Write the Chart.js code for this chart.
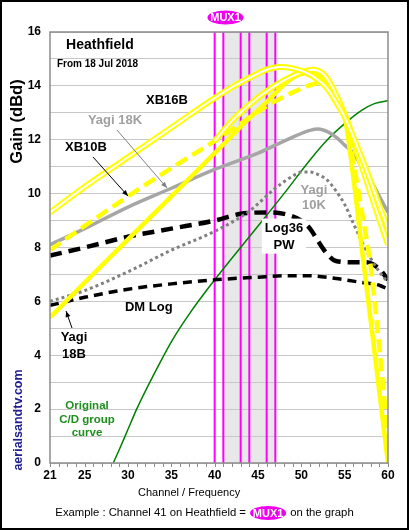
<!DOCTYPE html>
<html>
<head>
<meta charset="utf-8">
<script src="https://cdn.jsdelivr.net/npm/chart.js@4.4.1/dist/chart.umd.min.js"></script>
<style>
  html, body { margin: 0; padding: 0; background: #fff; }
  canvas { display: block; }
</style>
</head>
<body>
<canvas id="gainChart" width="409" height="530"></canvas>
<script>
const FONT = "'Liberation Sans', Arial, sans-serif";

const X_TICKS = [21, 25, 30, 35, 40, 45, 50, 55, 60];
const MUX_CHANNELS = [40, 41, 43, 44, 46, 47];
const MUX_BAND = [41, 47];

// [channel, gain in dBd]
const xb16b = [[21, 9.3], [25, 10.25], [30, 11.35], [35, 12.45], [40, 13.55], [42, 13.95], [44, 14.3],
  [46, 14.6], [47.5, 14.7], [49, 14.65], [50.5, 14.5], [52, 14.2], [53, 13.9], [54, 13.4], [55, 12.85],
  [56, 12.1], [57, 11.3], [58, 10.45], [59, 9.55], [60, 8.7]];
const xb16bB = [[40, 11.95], [42, 12.7], [44, 13.3], [46, 13.8], [48, 14.2], [50, 14.5], [51.3, 14.6],
  [52.5, 14.45], [53.5, 14.0], [54.5, 13.3], [55.3, 12.7], [56, 11.95], [57, 11.0], [58, 10.0],
  [59, 9.05], [60, 8.1]];
const yagi18b = [[21, 5.4], [25, 6.7], [30, 8.3], [35, 9.9], [40, 11.5], [44, 12.8], [46, 13.4],
  [48, 14.05], [49, 14.3], [50, 14.45], [51, 14.5], [52, 14.4], [53, 14.1], [54, 13.5], [55, 12.85],
  [56, 10.6], [57, 7.9], [58, 5.3], [59, 2.65], [60, 0]];
const xb10b = [[21, 7.9], [25, 8.8], [30, 9.9], [35, 10.95], [40, 11.95], [43, 12.6], [46, 13.25],
  [48, 13.6], [50, 13.9], [52, 14.1], [53, 14.05], [54, 13.7], [55, 12.9], [56, 11.2], [57, 9.3],
  [58, 7.3], [59, 4.3], [60, 1.0]];
const yagi18k = [[21, 8.1], [25, 8.7], [30, 9.5], [35, 10.2], [40, 10.9], [45, 11.5], [49, 12.1],
  [51, 12.35], [52, 12.4], [53, 12.3], [54, 12.1], [55, 11.8], [56, 11.5], [57, 11.0], [58, 10.5],
  [59, 9.9], [60, 9.3]];
const yagi10k = [[21, 6.0], [25, 6.4], [30, 7.1], [35, 7.9], [40, 8.6], [44, 9.35], [47, 10.2],
  [49, 10.65], [50, 10.8], [51, 10.8], [52, 10.7], [53, 10.5], [54, 10.1], [55, 9.6], [56, 8.9],
  [57, 8.2], [58, 7.6], [59, 7.1], [60, 6.7]];
const log36 = [[21, 7.7], [25, 8.0], [30, 8.4], [35, 8.7], [40, 9.0], [43, 9.25], [46, 9.3], [48, 9.25],
  [50, 9.0], [51, 8.7], [52, 8.2], [53, 7.75], [54, 7.5], [56, 7.45], [57.5, 7.45], [59, 7.2], [60, 6.8]];
const dmLog = [[21, 5.85], [25, 6.15], [30, 6.45], [35, 6.65], [40, 6.8], [45, 6.9], [48, 6.95],
  [51, 6.95], [54, 6.85], [57, 6.7], [59, 6.6], [60, 6.45]];
const cdGroup = [[28.3, 0], [29, 0.5], [30, 1.25], [31, 2.0], [33, 3.3], [35, 4.5], [37, 5.5], [40, 6.8],
  [44, 8.4], [48, 10.0], [51, 11.25], [53, 12.0], [55, 12.6], [57, 13.1], [58.5, 13.35], [60, 13.45]];

const TEXTS = [
  { lines: ['Heathfield'], ch: 22.85, dB: 15.52, size: 14, color: '#000', align: 'left' },
  { lines: ['From 18 Jul 2018'], ch: 21.8, dB: 14.81, size: 10, color: '#000', align: 'left' },
  { lines: ['XB16B'], ch: 34.5, dB: 13.47, size: 13, color: '#000' },
  { lines: ['Yagi 18K'], ch: 28.5, dB: 12.73, size: 13, color: '#a0a0a0' },
  { lines: ['XB10B'], ch: 25.15, dB: 11.73, size: 13, color: '#000' },
  { lines: ['Yagi', '10K'], ch: 51.46, dB: 10.13, size: 13, color: '#a0a0a0', lh: 15 },
  { lines: ['Log36', 'PW'], ch: 48.0, dB: 8.72, size: 13, color: '#000', lh: 17, box: true },
  { lines: ['DM Log'], ch: 32.4, dB: 5.79, size: 13, color: '#000' },
  { lines: ['Yagi', '18B'], ch: 23.77, dB: 4.68, size: 13, color: '#000', lh: 17 },
  { lines: ['Original', 'C/D group', 'curve'], ch: 25.27, dB: 2.12, size: 11.5, color: '#1f8f1f', lh: 13.5 },
];

const ARROWS = [
  { from: [25.96, 11.36], to: [30.0, 9.91], color: '#000' },
  { from: [28.73, 12.36], to: [34.5, 10.21], color: '#808080' },
  { from: [23.54, 5.01], to: [22.85, 5.64], color: '#000' },
];

function line(data, color, width, dash) {
  return {
    data: data.map(([x, y]) => ({ x, y })),
    borderColor: color,
    borderWidth: width,
    borderDash: dash || [],
    borderCapStyle: 'butt',
    pointRadius: 0,
    fill: false,
    cubicInterpolationMode: 'monotone',
  };
}

function pill(ctx, cx, cy) {
  ctx.save();
  ctx.fillStyle = '#ee00ee';
  ctx.beginPath();
  ctx.ellipse(cx, cy, 18, 7, 0, 0, Math.PI * 2);
  ctx.fill();
  ctx.fillStyle = '#fff';
  ctx.font = 'bold 11px ' + FONT;
  ctx.textAlign = 'center';
  ctx.textBaseline = 'middle';
  ctx.fillText('MUX1', cx, cy + 0.5);
  ctx.restore();
}

const decor = {
  id: 'decor',
  beforeDraw(chart) {
    const { ctx, chartArea: a, scales: { x } } = chart;
    ctx.save();
    ctx.fillStyle = '#fff';
    ctx.fillRect(0, 0, chart.width, chart.height);
    ctx.fillStyle = '#e8e8e8';
    const x0 = x.getPixelForValue(MUX_BAND[0]);
    const x1 = x.getPixelForValue(MUX_BAND[1]);
    ctx.fillRect(x0, a.top, x1 - x0, a.bottom - a.top);
    ctx.restore();
  },
  beforeDatasetsDraw(chart) {
    const { ctx, chartArea: a, scales: { x } } = chart;
    ctx.save();
    ctx.strokeStyle = '#ff00ff';
    ctx.lineWidth = 2;
    MUX_CHANNELS.forEach((c) => {
      const px = x.getPixelForValue(c);
      ctx.beginPath();
      ctx.moveTo(px, a.top);
      ctx.lineTo(px, a.bottom);
      ctx.stroke();
    });
    ctx.restore();
  },
  afterDatasetsDraw(chart) {
    const { ctx, chartArea: a, scales: { x, y } } = chart;
    ctx.save();

    // plot frame
    ctx.strokeStyle = '#8c8c8c';
    ctx.lineWidth = 1.5;
    ctx.strokeRect(a.left, a.top, a.right - a.left, a.bottom - a.top);

    // channel ticks
    ctx.strokeStyle = '#8c8c8c';
    ctx.lineWidth = 1;
    for (let c = 21; c <= 60; c++) {
      const px = Math.round(x.getPixelForValue(c)) + 0.5;
      ctx.beginPath();
      ctx.moveTo(px, a.bottom);
      ctx.lineTo(px, a.bottom + 4);
      ctx.stroke();
    }

    // arrows
    ARROWS.forEach((ar) => {
      const fx = x.getPixelForValue(ar.from[0]), fy = y.getPixelForValue(ar.from[1]);
      const tx = x.getPixelForValue(ar.to[0]), ty = y.getPixelForValue(ar.to[1]);
      const ang = Math.atan2(ty - fy, tx - fx);
      ctx.strokeStyle = ar.color;
      ctx.fillStyle = ar.color;
      ctx.lineWidth = 1;
      ctx.beginPath();
      ctx.moveTo(fx, fy);
      ctx.lineTo(tx, ty);
      ctx.stroke();
      ctx.beginPath();
      ctx.moveTo(tx, ty);
      ctx.lineTo(tx - 6 * Math.cos(ang) + 2.5 * Math.sin(ang), ty - 6 * Math.sin(ang) - 2.5 * Math.cos(ang));
      ctx.lineTo(tx - 6 * Math.cos(ang) - 2.5 * Math.sin(ang), ty - 6 * Math.sin(ang) + 2.5 * Math.cos(ang));
      ctx.closePath();
      ctx.fill();
    });

    // curve labels
    TEXTS.forEach((t) => {
      const px = x.getPixelForValue(t.ch);
      const py = y.getPixelForValue(t.dB);
      const lh = t.lh || 16;
      ctx.font = 'bold ' + t.size + 'px ' + FONT;
      ctx.textBaseline = 'middle';
      ctx.textAlign = t.align || 'center';
      if (t.box) {
        const w = Math.max(...t.lines.map((s) => ctx.measureText(s).width)) + 6;
        ctx.fillStyle = '#fff';
        ctx.fillRect(px - w / 2, py - lh / 2 - 1, w, lh * t.lines.length + 1);
      }
      ctx.fillStyle = t.color;
      t.lines.forEach((s, i) => ctx.fillText(s, px, py + i * lh));
    });

    // top MUX1 marker
    pill(ctx, x.getPixelForValue(41.25), a.top - 14.5);

    // axis titles
    ctx.fillStyle = '#000';
    ctx.font = 'bold 16.5px ' + FONT;
    ctx.textAlign = 'center';
    ctx.textBaseline = 'middle';
    ctx.save();
    ctx.translate(17.5, 121.5);
    ctx.rotate(-Math.PI / 2);
    ctx.fillText('Gain (dBd)', 0, 0);
    ctx.restore();

    ctx.save();
    ctx.fillStyle = '#202090';
    ctx.font = 'bold 12.5px ' + FONT;
    ctx.translate(19, 420);
    ctx.rotate(-Math.PI / 2);
    ctx.fillText('aerialsandtv.com', 0, 0);
    ctx.restore();

    ctx.font = '11px ' + FONT;
    ctx.fillStyle = '#000';
    ctx.fillText('Channel / Frequency', x.getPixelForValue(37.05), a.bottom + 30);

    // footer
    const left = 'Example : Channel 41 on Heathfield = ';
    const right = ' on the graph';
    ctx.font = '11.3px ' + FONT;
    const wl = ctx.measureText(left).width;
    const wr = ctx.measureText(right).width;
    const total = wl + 38 + wr;
    const sx = chart.width / 2 - total / 2;
    const fy = a.bottom + 50;
    ctx.textAlign = 'left';
    ctx.fillText(left, sx, fy);
    ctx.fillText(right, sx + wl + 38, fy);
    pill(ctx, sx + wl + 19, fy);

    // outer frame
    ctx.strokeStyle = '#000';
    ctx.lineWidth = 2;
    ctx.strokeRect(1, 1, chart.width - 2, chart.height - 2);
    ctx.restore();
  },
};

new Chart(document.getElementById('gainChart'), {
  type: 'line',
  data: {
    datasets: [
      line(xb16b, '#ffffff', 2),
      line(xb16b, '#ffff00', 6),
      line(xb16bB, '#ffffff', 2),
      line(xb16bB, '#ffff00', 6),
      line(yagi18b, '#ffff00', 4.5),
      line(xb10b, '#ffff00', 4.5, [13, 6]),
      line(yagi18k, '#a6a6a6', 3.5),
      line(yagi10k, '#808080', 3, [3, 3]),
      line(log36, '#000000', 4.5, [12, 7]),
      line(dmLog, '#000000', 3.5, [9, 6]),
      line(cdGroup, '#008000', 1.5),
    ],
  },
  options: {
    responsive: false,
    animation: false,
    devicePixelRatio: 1,
    layout: { padding: { left: 0, top: 32, right: 21, bottom: 0 } },
    plugins: { legend: { display: false }, tooltip: { enabled: false } },
    scales: {
      x: {
        type: 'linear',
        min: 21,
        max: 60,
        afterBuildTicks: (scale) => { scale.ticks = X_TICKS.map((v) => ({ value: v })); },
        afterFit: (scale) => { scale.height = 67; },
        grid: { display: false, drawTicks: false },
        border: { display: false },
        ticks: { font: { family: FONT, size: 12, weight: 'bold' }, color: '#000', padding: 5, maxRotation: 0, autoSkip: false },
      },
      y: {
        min: 0,
        max: 16,
        afterFit: (scale) => { scale.width = 50; },
        grid: { color: '#c8c8c8', lineWidth: 1, drawTicks: false },
        border: { display: false },
        ticks: {
          stepSize: 1,
          padding: 9,
          color: '#000',
          font: { family: FONT, size: 12, weight: 'bold' },
          callback: (v) => (v % 2 === 0 ? v : ''),
        },
      },
    },
  },
  plugins: [decor],
});
</script>
</body>
</html>
